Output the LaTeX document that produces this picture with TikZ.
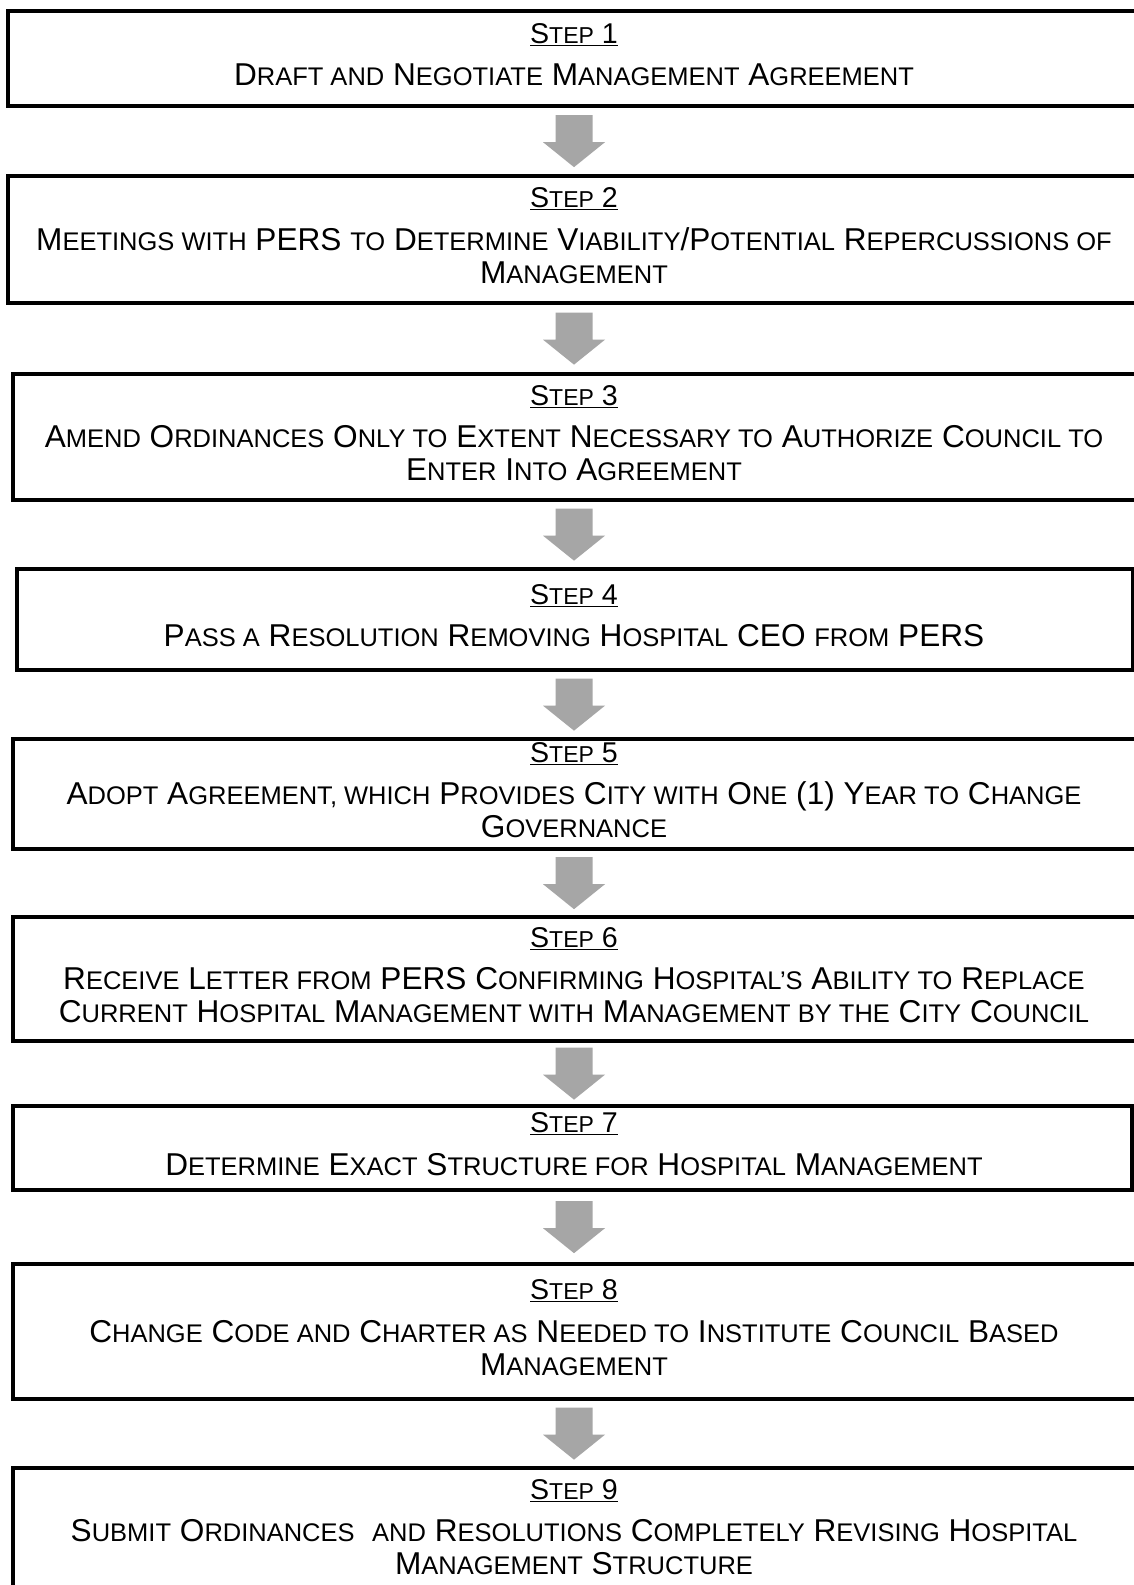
\documentclass[tikz,border=0pt]{standalone}
\usepackage{fontspec}
\setmainfont{Liberation Sans}
\usetikzlibrary{calc}
\newcommand\lw[1]{{\fontsize{25.5}{33}\selectfont\uppercase{#1}}}
\newcommand\stepno[1]{\underline{{\fontsize{28.6}{33}\selectfont S{\fontsize{23}{33}\selectfont TEP} #1}}}
\definecolor{arrowgray}{RGB}{166,166,166}
\tikzset{
  stepbox/.style={draw=black, line width=4.3pt, rectangle, anchor=north west, inner sep=0pt},
  txt/.style={align=center, inner sep=0pt, yshift=4pt, font=\fontsize{31.6}{33}\selectfont},
  arrowfill/.style={fill=arrowgray}
}
\newcommand\blockarrow[1]{\fill[arrowfill] ($(#1)+(-18.5,-26)$) -- ++(37,0) -- ++(0,27) -- ++(12.5,0) -- ($(#1)+(0,26)$) -- ($(#1)+(-31,1)$) -- ++(12.5,0) -- cycle;}
\begin{document}
\begin{tikzpicture}[x=1pt,y=-1pt]
\path[use as bounding box, clip] (0,0) rectangle (1134,1585);
\fill[white] (0,0) rectangle (1134,1585);
\coordinate (axis) at (574,0);
% boxes
\node[stepbox, minimum width=1144pt, minimum height=95pt]  (b1) at (6,9) {};
\node[stepbox, minimum width=1144pt, minimum height=127pt] (b2) at (6,174) {};
\node[stepbox, minimum width=1139pt, minimum height=126pt] (b3) at (11,372) {};
\node[stepbox, minimum width=1116pt, minimum height=101pt] (b4) at (15,567) {};
\node[stepbox, minimum width=1139pt, minimum height=110pt] (b5) at (11,737) {};
\node[stepbox, minimum width=1139pt, minimum height=124pt] (b6) at (11,915) {};
\node[stepbox, minimum width=1119pt, minimum height=84pt]  (b7) at (11,1104) {};
\node[stepbox, minimum width=1139pt, minimum height=135pt] (b8) at (11,1262) {};
\node[stepbox, minimum width=1139pt, minimum height=126pt] (b9) at (11,1466) {};
% texts
\node[txt] (t1) at (b1.center -| axis) {\stepno{1}\\[9.5pt]D\lw{raft and} N\lw{egotiate} M\lw{anagement} A\lw{greement}};
\node[txt] (t2) at (b2.center -| axis) {\stepno{2}\\[9.5pt]M\lw{eetings with} PERS \lw{to} D\lw{etermine} V\lw{iability}/P\lw{otential} R\lw{epercussions of}\\M\lw{anagement}};
\node[txt] (t3) at (b3.center -| axis) {\stepno{3}\\[9.5pt]A\lw{mend} O\lw{rdinances} O\lw{nly to} E\lw{xtent} N\lw{ecessary to} A\lw{uthorize} C\lw{ouncil to}\\E\lw{nter} I\lw{nto} A\lw{greement}};
\node[txt] (t4) at (b4.center -| axis) {\stepno{4}\\[9.5pt]P\lw{ass a} R\lw{esolution} R\lw{emoving} H\lw{ospital} CEO \lw{from} PERS};
\node[txt] (t5) at (b5.center -| axis) {\stepno{5}\\[9.5pt]A\lw{dopt} A\lw{greement, which} P\lw{rovides} C\lw{ity with} O\lw{ne} (1) Y\lw{ear to} C\lw{hange}\\G\lw{overnance}};
\node[txt] (t6) at (b6.center -| axis) {\stepno{6}\\[9.5pt]R\lw{eceive} L\lw{etter from} PERS C\lw{onfirming} H\lw{ospital’s} A\lw{bility to} R\lw{eplace}\\C\lw{urrent} H\lw{ospital} M\lw{anagement with} M\lw{anagement by the} C\lw{ity} C\lw{ouncil}};
\node[txt] (t7) at (b7.center -| axis) {\stepno{7}\\[9.5pt]D\lw{etermine} E\lw{xact} S\lw{tructure for} H\lw{ospital} M\lw{anagement}};
\node[txt] (t8) at (b8.center -| axis) {\stepno{8}\\[9.5pt]C\lw{hange} C\lw{ode and} C\lw{harter as} N\lw{eeded to} I\lw{nstitute} C\lw{ouncil} B\lw{ased}\\M\lw{anagement}};
\node[txt] (t9) at (b9.center -| axis) {\stepno{9}\\[9.5pt]S\lw{ubmit} O\lw{rdinances}\ \ \lw{and} R\lw{esolutions} C\lw{ompletely} R\lw{evising} H\lw{ospital}\\M\lw{anagement} S\lw{tructure}};
% arrows
\foreach \a/\b in {b1/b2,b2/b3,b3/b4,b4/b5,b5/b6,b6/b7,b7/b8,b8/b9}{
  \coordinate (m-\a) at ($(\a.south)!0.5!(\b.north)$);
  \coordinate (c-\a) at (m-\a -| axis);
  \blockarrow{c-\a}
}
\end{tikzpicture}
\end{document}
